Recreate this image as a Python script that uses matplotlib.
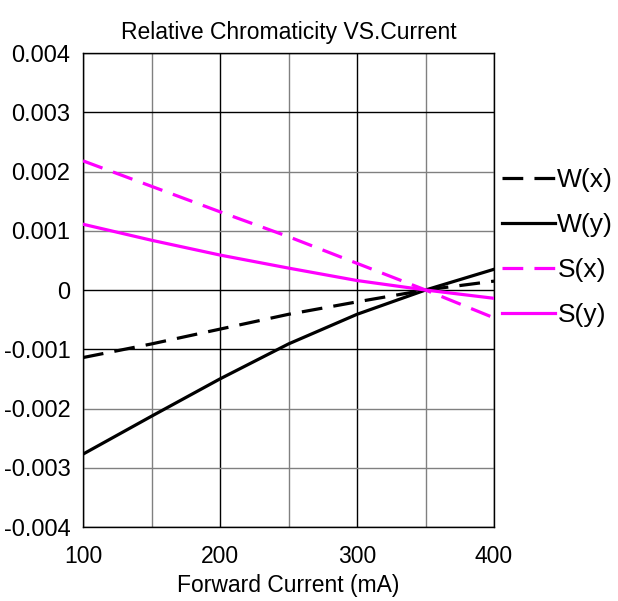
import numpy as np
import matplotlib
matplotlib.use('Agg')
import matplotlib.pyplot as plt

plt.rcParams['font.family'] = ['Liberation Sans', 'DejaVu Sans']

# forward current (mA)
current = [100, 150, 200, 250, 300, 350, 400]

# relative chromaticity shift
w_x = [-0.00114, -0.00091, -0.00066, -0.00041, -0.00020, 0.0, 0.00015]
w_y = [-0.00277, -0.00213, -0.00150, -0.00091, -0.00041, 0.0, 0.00035]
s_x = [0.00218, 0.00175, 0.00132, 0.00090, 0.00045, 0.0, -0.00047]
s_y = [0.00111, 0.00084, 0.00059, 0.00037, 0.00016, 0.0, -0.00014]

yticks = [-0.004, -0.003, -0.002, -0.001, 0, 0.001, 0.002, 0.003, 0.004]
ytick_labels = ['-0.004', '-0.003', '-0.002', '-0.001', '0',
                '0.001', '0.002', '0.003', '0.004']
xticks = [100, 200, 300, 400]

fig = plt.figure(figsize=(6.18, 6.01), dpi=100)
ax = fig.add_axes([0.1343, 0.1231, 0.6651, 0.7887])

# grid: black at major positions, grey in between
for xv in range(100, 401, 50):
    c = 'black' if xv % 100 == 0 else '#808080'
    ax.axvline(xv, color=c, lw=1.0, zorder=1)
for yv in yticks:
    c = 'black' if yv in (0.004, 0.003, 0, -0.001, -0.004) else '#808080'
    ax.axhline(yv, color=c, lw=1.0, zorder=1)

dash = (6.5, 3.5)
ax.plot(current, w_x, color='black', lw=2.3, dashes=dash, label='W(x)', zorder=3)
ax.plot(current, w_y, color='black', lw=2.3, label='W(y)', zorder=3)
ax.plot(current, s_x, color='#ff00ff', lw=2.3, dashes=dash, label='S(x)', zorder=3)
ax.plot(current, s_y, color='#ff00ff', lw=2.3, label='S(y)', zorder=3)

ax.set_xlim(100, 400)
ax.set_ylim(-0.004, 0.004)
ax.set_xticks(xticks)
ax.set_yticks(yticks)
ax.set_yticklabels(ytick_labels)
ax.tick_params(length=0)
ax.tick_params(axis='x', pad=13, labelsize=16.5)
ax.tick_params(axis='y', pad=9, labelsize=17)
for s in ax.spines.values():
    s.set_linewidth(1.0)

ax.set_title('Relative Chromaticity VS.Current', fontsize=16.5, pad=10)
ax.set_xlabel('Forward Current (mA)', fontsize=16.5, labelpad=4)

ax.legend(loc='upper left', bbox_to_anchor=(1.0, 0.774), frameon=False,
          fontsize=19, handlelength=2.0, handletextpad=0.1,
          labelspacing=0.8, borderaxespad=0.3, borderpad=0)

fig.savefig('out.png', dpi=100)
